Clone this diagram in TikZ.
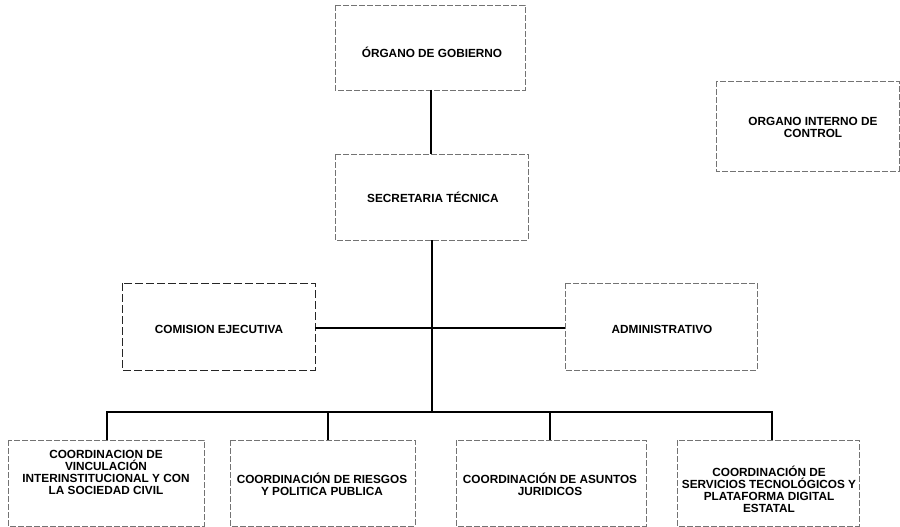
\documentclass[tikz,border=0pt]{standalone}
\usepackage{fontspec}
\setmainfont{Liberation Sans}
\begin{document}
\begin{tikzpicture}[x=1pt,y=-1pt,
  orgbox/.style={draw=black!55,dashed,dash pattern=on 6pt off 2pt,line width=0.5pt},
  lbl/.style={inner sep=0pt,align=center,font=\fontsize{11.8}{12}\selectfont\bfseries},
  conn/.style={line width=1.6pt,black}]
\useasboundingbox (0,0) rectangle (900,527);
% boxes
\draw[orgbox] (335,5) rectangle (525,90);
\draw[orgbox] (716,81) rectangle (899,171);
\draw[orgbox] (335,154) rectangle (528,240);
\draw[orgbox,draw=black!85,dash pattern=on 8pt off 3pt,line width=0.7pt] (122,283) rectangle (315,370);
\draw[orgbox] (565,283) rectangle (757,370);
\draw[orgbox] (8,440) rectangle (204,526);
\draw[orgbox] (230,440) rectangle (415,526);
\draw[orgbox] (456,440) rectangle (646,526);
\draw[orgbox] (677,440) rectangle (859,526);
% texts
\node[lbl] (gob) at (432,52) {ÓRGANO DE GOBIERNO};
\node[lbl] (oic) at (813,127) {ORGANO INTERNO DE\\CONTROL};
\node[lbl] (sec) at (433,197) {SECRETARIA TÉCNICA};
\node[lbl] (com) at (219,329) {COMISION EJECUTIVA};
\node[lbl] (adm) at (662,329) {ADMINISTRATIVO};
\node[lbl] (c1) at (106,472) {COORDINACION DE\\VINCULACIÓN\\INTERINSTITUCIONAL Y CON\\LA SOCIEDAD CIVIL};
\node[lbl] (c2) at (322,484) {COORDINACIÓN DE RIESGOS\\Y POLITICA PUBLICA};
\node[lbl] (c3) at (550,484) {COORDINACIÓN DE ASUNTOS\\JURIDICOS};
\node[lbl] (c4) at (769,489) {COORDINACIÓN DE\\SERVICIOS TECNOLÓGICOS Y\\PLATAFORMA DIGITAL\\ESTATAL};
% anchor coordinates on box edges
\coordinate (gobB) at (431,90);
\coordinate (secT) at (431,154);
\coordinate (secB) at (432,240);
\coordinate (comR) at (315,328);
\coordinate (admL) at (565,328);
\coordinate (bus) at (432,412);
\coordinate (c1T) at (107,440);
\coordinate (c2T) at (328,440);
\coordinate (c3T) at (550,440);
\coordinate (c4T) at (772,440);
% connectors
\draw[conn] (gobB) -- (secT);
\draw[conn] (secB) -- (bus);
\draw[conn] (comR) -- (admL);
\draw[conn] (c1T) |- (bus) -| (c4T);
\draw[conn] (c2T) -- (c2T |- bus);
\draw[conn] (c3T) -- (c3T |- bus);
\end{tikzpicture}
\end{document}
